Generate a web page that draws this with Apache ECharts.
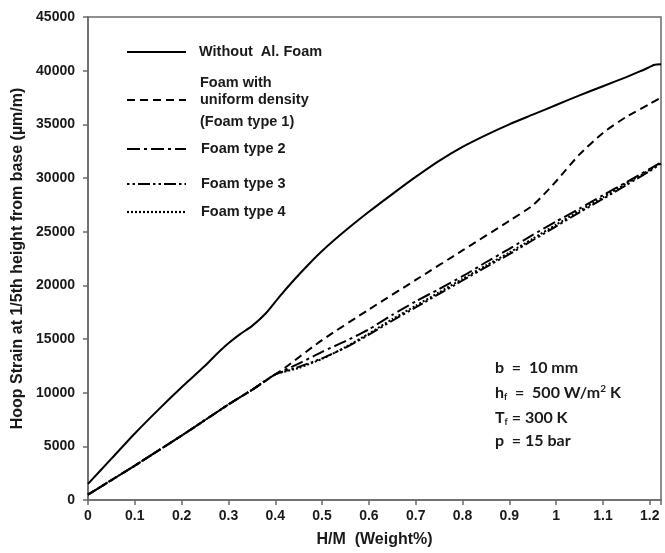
<!DOCTYPE html>
<html>
<head>
<meta charset="utf-8">
<script src="https://cdn.jsdelivr.net/npm/echarts@6/dist/echarts.min.js"></script>
<style>
html,body{margin:0;padding:0;background:#fff;}
#c{width:665px;height:553px;}
</style>
</head>
<body>
<div id="c"></div>
<script>
// ---- data ----
var xTicks = [0, 0.1, 0.2, 0.3, 0.4, 0.5, 0.6, 0.7, 0.8, 0.9, 1, 1.1, 1.2];
var yTicks = [0, 5000, 10000, 15000, 20000, 25000, 30000, 35000, 40000, 45000];

var seriesNames = ['Without Al. Foam', 'Foam type 1', 'Foam type 2', 'Foam type 3', 'Foam type 4'];

var noFoamX = [0, 0.05, 0.1, 0.15, 0.2, 0.25, 0.275, 0.3, 0.325, 0.35, 0.38, 0.41, 0.44, 0.47, 0.5, 0.55, 0.6, 0.65, 0.7, 0.75, 0.8, 0.85, 0.9, 0.95, 1.0, 1.05, 1.1, 1.15, 1.18, 1.2, 1.21, 1.224];
var noFoamY = [1500, 3850, 6200, 8400, 10500, 12500, 13600, 14600, 15450, 16200, 17400, 19000, 20500, 21900, 23200, 25100, 26850, 28500, 30100, 31600, 32900, 34000, 35000, 35900, 36800, 37700, 38550, 39400, 39950, 40350, 40550, 40600];

var type1X = [0, 0.05, 0.1, 0.15, 0.2, 0.25, 0.3, 0.35, 0.4, 0.42, 0.5, 0.6, 0.7, 0.8, 0.9, 0.95, 0.98, 1.0, 1.05, 1.1, 1.15, 1.2, 1.224];
var type1Y = [500, 1850, 3200, 4600, 6000, 7450, 8900, 10250, 11700, 12300, 14900, 17750, 20500, 23250, 26000, 27450, 28750, 29700, 32200, 34200, 35700, 36900, 37500];

var type2X = [0, 0.05, 0.1, 0.15, 0.2, 0.25, 0.3, 0.35, 0.4, 0.45, 0.5, 0.55, 0.6, 0.65, 0.7, 0.75, 0.8, 0.85, 0.9, 0.95, 1.0, 1.05, 1.1, 1.15, 1.2, 1.224];
var type2Y = [500, 1850, 3200, 4600, 6000, 7450, 8900, 10250, 11700, 12700, 13800, 14800, 15900, 17250, 18500, 19650, 20850, 22150, 23400, 24700, 25950, 27150, 28400, 29600, 30850, 31450];

var type3X = [0, 0.05, 0.1, 0.15, 0.2, 0.25, 0.3, 0.35, 0.4, 0.45, 0.5, 0.55, 0.6, 0.65, 0.7, 0.75, 0.8, 0.85, 0.9, 0.95, 1.0, 1.05, 1.1, 1.15, 1.2, 1.224];
var type3Y = [500, 1850, 3200, 4600, 6000, 7450, 8900, 10250, 11700, 12400, 13200, 14200, 15400, 16700, 17950, 19200, 20450, 21700, 22900, 24200, 25500, 26800, 28050, 29350, 30650, 31350];

var type4X = [0, 0.05, 0.1, 0.15, 0.2, 0.25, 0.3, 0.35, 0.4, 0.45, 0.5, 0.55, 0.6, 0.65, 0.7, 0.75, 0.8, 0.85, 0.9, 0.95, 1.0, 1.05, 1.1, 1.15, 1.2, 1.224];
var type4Y = [500, 1850, 3200, 4600, 6000, 7450, 8900, 10250, 11700, 12300, 13150, 14250, 15500, 16850, 18100, 19350, 20600, 21850, 23050, 24350, 25650, 26950, 28200, 29500, 30750, 31400];

var xAxisTitle = 'H/M  (Weight%)';
var yAxisTitle = 'Hoop Strain at 1/5th height from base (\u00b5m/m)';

// ---- build ----
function pairs(xs, ys) { return xs.map(function (x, i) { return [x, ys[i]]; }); }

var dashes = {
  solid: 'solid',
  t1: [8, 5],
  t2: [13, 4, 3, 4],
  t3: [2.5, 3, 2.5, 3, 12, 3],
  t4: [2, 2]
};

var chart = echarts.init(document.getElementById('c'), null, { renderer: 'canvas' });
var baseFont = 'Liberation Sans, Arial, sans-serif';

function mkSeries(name, xs, ys, dash) {
  return {
    name: name, type: 'line', data: pairs(xs, ys), showSymbol: false, symbol: 'none',
    smooth: 0.2, animation: false,
    lineStyle: { color: '#000', width: 2, type: dash }
  };
}

var G = { l: 88, t: 17, r: 4, b: 52 };

function legendLine(y, dash) {
  return { type: 'line', shape: { x1: 127, y1: y, x2: 186, y2: y },
    style: { stroke: '#000', lineWidth: 2.2, lineDash: dash === 'solid' ? null : dash } };
}
function legendText(x, y, t) {
  return { type: 'text', x: x, y: y, style: { text: t, fill: '#1a1a1a', font: 'bold 14.5px ' + baseFont, textVerticalAlign: 'middle' } };
}

var annoFont = 'Lato, Open Sans, sans-serif';
var rich = {
  m: { fontFamily: annoFont, fontWeight: 'bold', fontSize: 16, fill: '#1a1a1a' },
  sub: { fontFamily: annoFont, fontWeight: 'bold', fontSize: 9, fill: '#1a1a1a', padding: [8, 0, 0, 0] },
  sup: { fontFamily: annoFont, fontWeight: 'bold', fontSize: 10, fill: '#1a1a1a', padding: [0, 0, 8, 0] }
};
function annoText(y, t) {
  return { type: 'text', x: 495, y: y, style: { text: t, rich: rich, textVerticalAlign: 'middle' } };
}

chart.setOption({
  animation: false,
  backgroundColor: '#fff',
  grid: { left: G.l, top: G.t, right: G.r, bottom: G.b, show: true, borderColor: '#6a6a6a', borderWidth: 1.5, containLabel: false },
  xAxis: {
    type: 'value', min: 0, max: 1.224, interval: 0.1,
    name: xAxisTitle, nameLocation: 'middle', nameGap: 32,
    nameTextStyle: { fontFamily: baseFont, fontWeight: 'bold', fontSize: 16, color: '#1a1a1a' },
    axisLine: { show: true, lineStyle: { color: '#6a6a6a', width: 1.5 } },
    axisTick: { show: true, inside: false, length: 5, lineStyle: { color: '#6a6a6a', width: 1.5 } },
    axisLabel: {
      margin: 9, fontFamily: baseFont, fontWeight: 'bold', fontSize: 14, color: '#1a1a1a',
      showMaxLabel: true,
      formatter: function (v) {
        for (var i = 0; i < xTicks.length; i++) { if (Math.abs(v - xTicks[i]) < 1e-6) return String(xTicks[i]); }
        return '';
      }
    },
    splitLine: { show: false }
  },
  yAxis: {
    type: 'value', min: 0, max: 45000, interval: 5000,
    name: yAxisTitle, nameLocation: 'middle', nameGap: 62, nameRotate: 90,
    nameTextStyle: { fontFamily: baseFont, fontWeight: 'bold', fontSize: 16, color: '#1a1a1a' },
    axisLine: { show: true, lineStyle: { color: '#6a6a6a', width: 1.5 } },
    axisTick: { show: true, inside: false, length: 5, lineStyle: { color: '#6a6a6a', width: 1.5 } },
    axisLabel: {
      margin: 13, fontFamily: baseFont, fontWeight: 'bold', fontSize: 14, color: '#1a1a1a',
      formatter: function (v) { return yTicks.indexOf(v) >= 0 ? String(v) : ''; }
    },
    splitLine: { show: false }
  },
  series: [
    mkSeries(seriesNames[0], noFoamX, noFoamY, dashes.solid),
    mkSeries(seriesNames[1], type1X, type1Y, dashes.t1),
    mkSeries(seriesNames[2], type2X, type2Y, dashes.t2),
    mkSeries(seriesNames[3], type3X, type3Y, dashes.t3),
    mkSeries(seriesNames[4], type4X, type4Y, dashes.t4)
  ],
  graphic: [
    legendLine(52, dashes.solid), legendText(199, 52, 'Without  Al. Foam'),
    legendLine(100, dashes.t1),
    legendText(200, 83, 'Foam with'), legendText(200, 100, 'uniform density'), legendText(200, 122, '(Foam type 1)'),
    legendLine(149, dashes.t2), legendText(201, 149, 'Foam type 2'),
    legendLine(184, dashes.t3), legendText(201, 184, 'Foam type 3'),
    legendLine(212, dashes.t4), legendText(201, 212, 'Foam type 4'),
    annoText(368, '{m|b  =  10 mm}'),
    annoText(393, '{m|h}{sub|f}{m|  =  500 W/m}{sup|2}{m| K}'),
    annoText(418, '{m|T}{sub|f}{m| = 300 K}'),
    annoText(441, '{m|p  = 15 bar}')
  ]
});
</script>
</body>
</html>
